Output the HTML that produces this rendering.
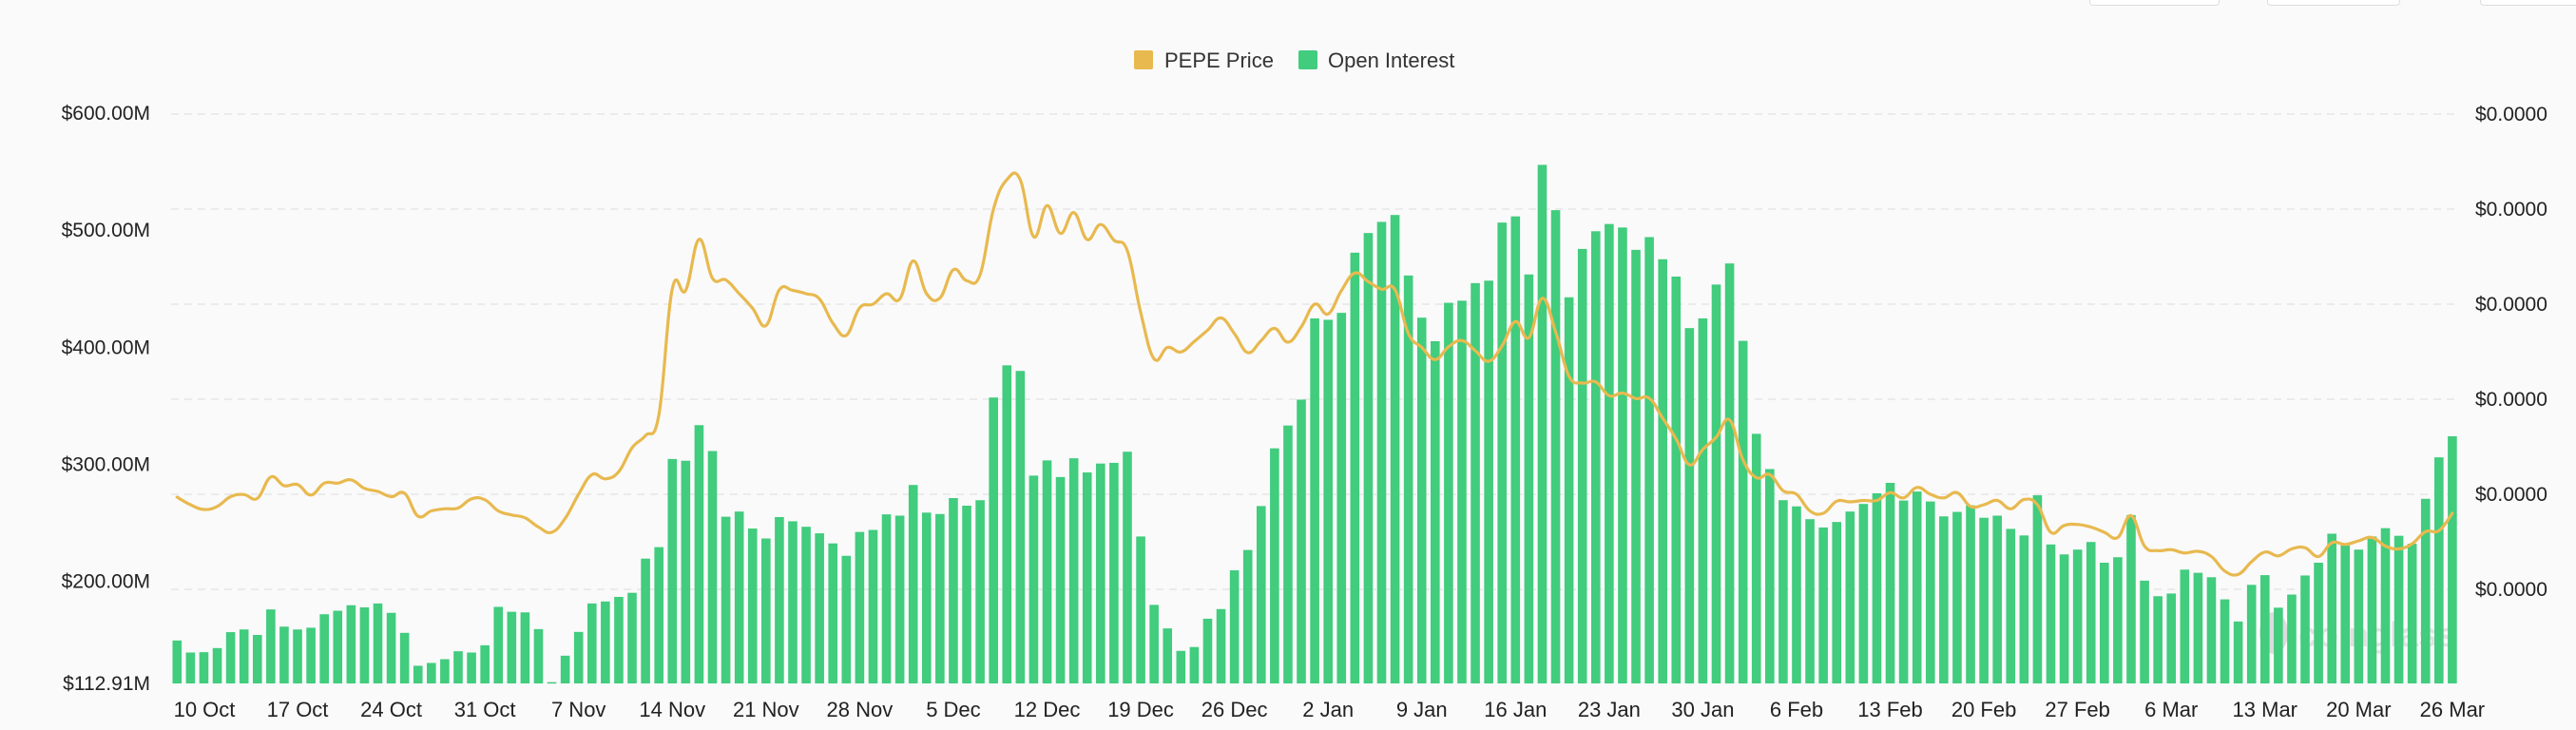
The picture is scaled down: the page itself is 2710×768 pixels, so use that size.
<!DOCTYPE html>
<html><head><meta charset="utf-8">
<style>
html,body{margin:0;padding:0;background:#fafafa;}
body{width:2710px;height:768px;overflow:hidden;position:relative;font-family:"Liberation Sans",sans-serif;}
svg{position:absolute;left:0;top:0;}
.tb{position:absolute;top:-6px;height:10px;border:1px solid #ddd;border-radius:4px;background:#fff;}
</style></head>
<body>
<div class="tb" style="left:2198px;width:135px"></div>
<div class="tb" style="left:2385px;width:138px"></div>
<div class="tb" style="left:2609px;width:120px"></div>
<svg id="chart" width="2710" height="768" viewBox="0 0 2710 768" xmlns="http://www.w3.org/2000/svg">
  <g id="legend">
    <g>
      <rect x="1193" y="53" width="20" height="20" rx="2" fill="#E8B94F"/>
      <text x="1225" y="71" font-size="22" fill="#333">PEPE Price</text>
    </g>
    <g>
      <rect x="1366" y="53" width="20" height="20" rx="2" fill="#41CC7E"/>
      <text x="1397" y="71" font-size="22" fill="#333">Open Interest</text>
    </g>
  </g>
  <g id="grid"></g>
  <g id="watermark" opacity="0.3">
    <ellipse cx="2392" cy="666" rx="15" ry="22" fill="#999"/>
    <text x="2418" y="680" font-size="36" font-weight="bold" fill="#aaa">coinglass</text>
  </g>
  <g id="bars"></g>
  <path id="priceLine" fill="none" stroke="#E8B94F" stroke-width="3.2" stroke-linejoin="round" stroke-linecap="round"/>
  <g id="leftAxis"></g>
  <g id="rightAxis"></g>
  <g id="xAxis"></g>
</svg>
<script>
const openInterest = [149.6,139.3,139.6,143.1,156.7,159,154.3,176.1,161.4,159,160.5,172,175,179.7,177.9,181.2,173.2,156.1,128,130.4,133.6,140.4,139.3,145.5,178.3,174.1,173.6,159.3,114,
136.6,156.9,181.2,182.9,186.8,190.3,219.5,229.3,304.6,303.1,333.5,311.4,255.3,259.7,245.2,236.7,255,251.4,246.7,241.1,232.5,221.9,242.3,244,257.3,256.2,282.4,258.8,257.6,
271.2,264.7,269.4,357.1,384.6,379.8,290.4,303.4,289.2,305.2,293.1,300.7,301.3,310.8,238.4,180,159.9,140.7,144,168.2,176.4,209.5,226.9,264.4,313.7,333.2,355.3,424.7,423.5,
429.4,480.8,497.6,507.1,513,461.3,425.3,405.2,438,439.8,454.8,456.9,506.5,511.8,462.2,555.8,517.1,442.7,484,499.1,505.3,502.3,483.2,494.1,475.2,460.4,416.4,424.7,
453.6,471.6,405.5,326.1,296,269.4,264.1,253.2,246.1,250.8,259.7,266.2,275.3,284.2,269.1,276.8,268.3,255.6,259.4,265,254.4,256.2,244.9,239.3,273.6,231.6,223.1,227.2,233.7,
216,220.7,256.7,200.7,187.4,189.7,210.1,207.4,203.6,184.7,165.8,197.1,205.4,177.6,188.8,205.1,216,240.8,230.8,227.2,238.4,245.5,239,232.2,270.6,306,324];
const pepePrice = [7.88,7.56,7.36,7.49,7.90,7.99,7.83,8.73,8.36,8.41,7.97,8.47,8.47,8.61,8.25,8.12,7.90,8.04,7.08,7.30,7.39,7.42,7.81,7.77,7.30,7.13,7.01,6.62,6.40,
6.99,8.0,8.83,8.65,8.95,9.96,10.47,11.35,16.65,16.58,18.73,17.09,17.02,16.44,15.83,15.10,16.61,16.58,16.44,16.22,15.2,14.69,15.85,16.0,16.44,16.22,17.82,16.44,16.26,
17.45,16.99,17.24,20.0,21.24,21.24,18.84,20.15,18.98,19.85,18.72,19.35,18.69,18.25,15.64,13.7,14.18,13.99,14.43,14.91,15.42,14.76,13.96,14.47,14.98,14.4,15.05,16.0,15.59,
16.58,17.31,16.95,16.63,16.61,14.76,14.18,13.67,14.21,14.47,14.04,13.6,14.25,15.27,14.59,16.25,14.84,12.97,12.68,12.73,12.15,12.26,12.03,12.04,11.2,10.33,9.24,9.89,
10.4,11.13,9.45,8.7,8.83,8.15,8.0,7.3,7.2,7.71,7.68,7.74,7.74,8.07,7.85,8.29,8.0,7.85,8.07,7.49,7.56,7.74,7.39,7.78,7.56,6.4,6.69,6.73,6.62,
6.4,6.18,7.1,5.82,5.63,5.67,5.53,5.6,5.38,4.77,4.63,5.16,5.57,5.41,5.7,5.75,5.38,5.96,5.89,6.04,6.18,5.82,5.7,5.92,6.43,6.47,7.2];
const xTickLabels = ["10 Oct","17 Oct","24 Oct","31 Oct","7 Nov","14 Nov","21 Nov","28 Nov","5 Dec","12 Dec","19 Dec","26 Dec","2 Jan","9 Jan","16 Jan","23 Jan","30 Jan","6 Feb","13 Feb","20 Feb","27 Feb","6 Mar","13 Mar","20 Mar","26 Mar"];
const xTickIndex = [2,9,16,23,30,37,44,51,58,65,72,79,86,93,100,107,114,121,128,135,142,149,156,163,170];
const leftTickValues = [600,500,400,300,200,112.91];
const leftTickLabels = ["$600.00M","$500.00M","$400.00M","$300.00M","$200.00M","$112.91M"];
const rightTickValues = [24,20,16,12,8,4];
const rightTickLabels = ["$0.0000","$0.0000","$0.0000","$0.0000","$0.0000","$0.0000"];

const NS="http://www.w3.org/2000/svg";
function mk(tag,attrs,parent){const e=document.createElementNS(NS,tag);for(const k in attrs)e.setAttribute(k,attrs[k]);parent.appendChild(e);return e;}
const X0=186.3, DX=14.08, BW=9.6;
function xPos(i){return X0+DX*i;}
function yOI(v){return 719-(v-112.91)*(600/487.09);}
function yPrice(p){return 620-(p-4)*25;}

const grid=document.getElementById('grid');
rightTickValues.forEach(v=>{
  const l=mk('line',{x1:180,x2:2588,y1:yPrice(v),y2:yPrice(v),stroke:'#e6e6e6','stroke-width':1.5,'stroke-dasharray':'8 6'},grid);
  
  
});

const bars=document.getElementById('bars');
openInterest.forEach((v,i)=>{
  const y=yOI(v);
  const r=mk('rect',{x:(xPos(i)-BW/2).toFixed(2),y:y.toFixed(2),width:BW,height:Math.max(1.5,719-y).toFixed(2),fill:'#41CC7E'},bars);
  
  
});

const pts=pepePrice.map((p,i)=>[xPos(i),yPrice(p)]);
let d='M'+pts[0][0].toFixed(1)+','+pts[0][1].toFixed(1);
for(let i=0;i<pts.length-1;i++){
  const p0=pts[Math.max(0,i-1)],p1=pts[i],p2=pts[i+1],p3=pts[Math.min(pts.length-1,i+2)];
  const t=0.2;
  const c1=[p1[0]+(p2[0]-p0[0])*t,p1[1]+(p2[1]-p0[1])*t];
  const c2=[p2[0]-(p3[0]-p1[0])*t,p2[1]-(p3[1]-p1[1])*t];
  d+=' C'+c1[0].toFixed(1)+','+c1[1].toFixed(1)+' '+c2[0].toFixed(1)+','+c2[1].toFixed(1)+' '+p2[0].toFixed(1)+','+p2[1].toFixed(1);
}
document.getElementById('priceLine').setAttribute('d',d);

const la=document.getElementById('leftAxis');
leftTickValues.forEach((v,i)=>{
  const t=mk('text',{x:158,y:yOI(v)+7,'font-size':21,'text-anchor':'end',fill:'#222'},la);
  t.textContent=leftTickLabels[i];
  
  
});
const ra=document.getElementById('rightAxis');
rightTickValues.forEach((v,i)=>{
  const t=mk('text',{x:2604,y:yPrice(v)+7,'font-size':21,fill:'#222'},ra);
  t.textContent=rightTickLabels[i];
  
  
});
const xa=document.getElementById('xAxis');
xTickLabels.forEach((s,i)=>{
  const cx=Math.max(xPos(xTickIndex[i]), i===0?215:0);
  const t=mk('text',{x:cx,y:754,'font-size':22,'text-anchor':'middle',fill:'#222'},xa);
  t.textContent=s;
  
  
});
</script>
</body></html>
